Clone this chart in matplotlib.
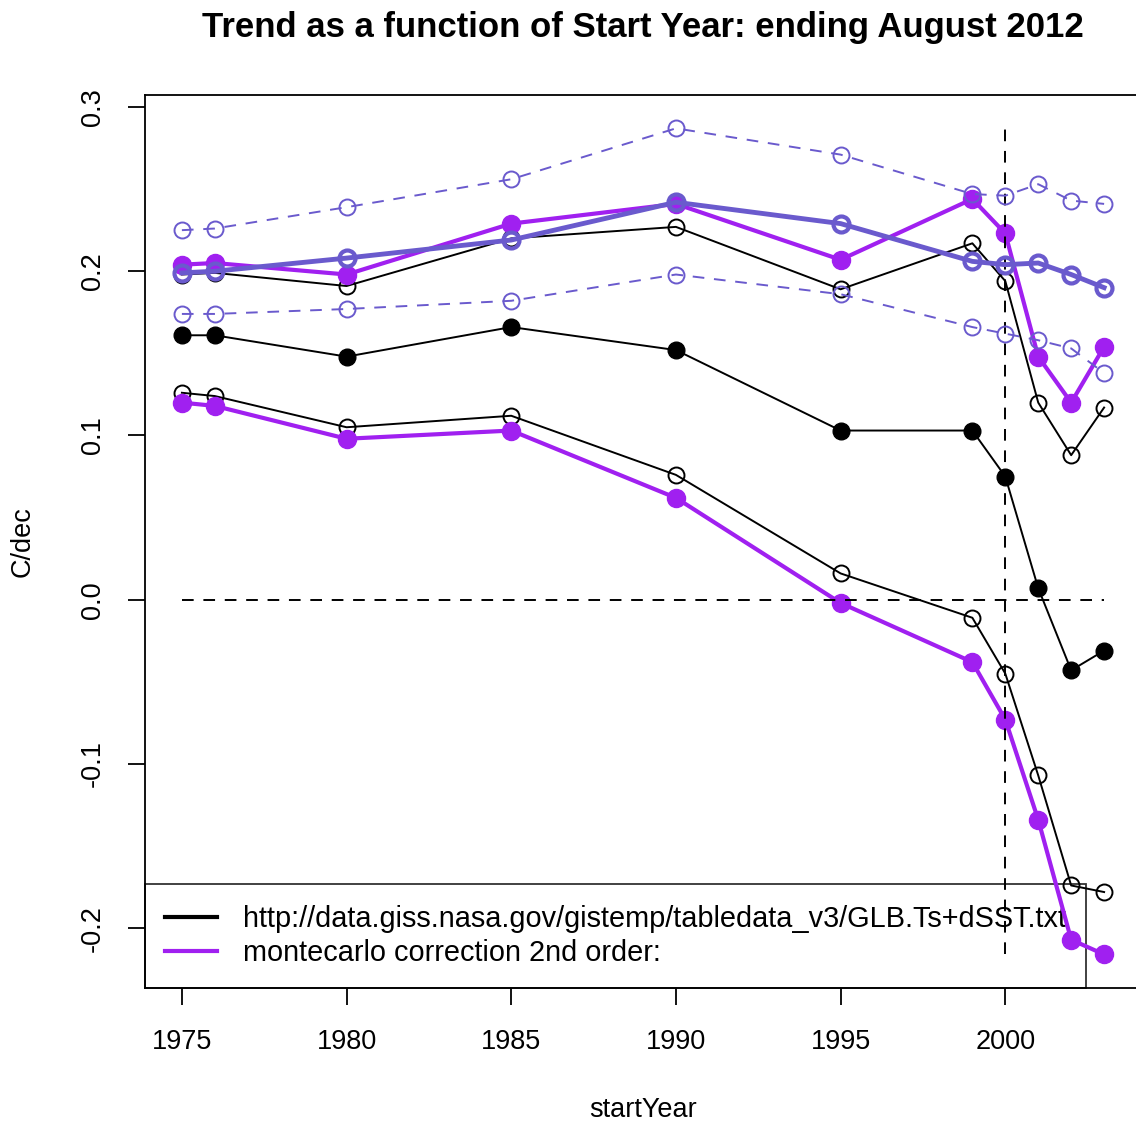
import matplotlib
matplotlib.use("Agg")
import matplotlib.pyplot as plt
from matplotlib.lines import Line2D

plt.rcParams['font.family'] = ['Liberation Sans', 'DejaVu Sans']

# Trend start years and trend estimates (C/decade)
years = [1975, 1976, 1980, 1985, 1990, 1995, 1999, 2000, 2001, 2002, 2003]

giss_trend = [0.161, 0.161, 0.148, 0.166, 0.152, 0.103, 0.103, 0.075, 0.007, -0.043, -0.031]
giss_upper = [0.198, 0.199, 0.191, 0.220, 0.227, 0.189, 0.217, 0.194, 0.120, 0.088, 0.117]
giss_lower = [0.126, 0.124, 0.105, 0.112, 0.076, 0.016, -0.011, -0.045, -0.107, -0.174, -0.178]

mc_upper = [0.204, 0.205, 0.198, 0.229, 0.241, 0.207, 0.244, 0.223, 0.148, 0.120, 0.154]
mc_lower = [0.120, 0.118, 0.098, 0.103, 0.062, -0.002, -0.038, -0.073, -0.134, -0.207, -0.216]

ar_trend = [0.199, 0.200, 0.208, 0.219, 0.242, 0.229, 0.206, 0.204, 0.205, 0.198, 0.190]
ar_upper = [0.225, 0.226, 0.239, 0.256, 0.287, 0.271, 0.247, 0.246, 0.253, 0.243, 0.241]
ar_lower = [0.174, 0.174, 0.177, 0.182, 0.198, 0.186, 0.166, 0.162, 0.158, 0.153, 0.138]

x_ticks = [1975, 1980, 1985, 1990, 1995, 2000]
y_ticks = [-0.2, -0.1, 0.0, 0.1, 0.2, 0.3]
y_ticklabels = ["-0.2", "-0.1", "0.0", "0.1", "0.2", "0.3"]

legend_labels = ["http://data.giss.nasa.gov/gistemp/tabledata_v3/GLB.Ts+dSST.txt",
                 "montecarlo correction 2nd order:"]

title = "Trend as a function of Start Year: ending August 2012"

PURPLE = "#A020F0"
SLATE = "#6A5ACD"

W, H = 1136, 1122
fig = plt.figure(figsize=(W / 100, H / 100), dpi=100)
ax = fig.add_axes([145 / W, (H - 987.5) / H, (1141 - 145) / W, (987.5 - 95.3) / H])

all_vals = giss_trend + giss_upper + giss_lower + mc_upper + mc_lower + ar_trend + ar_upper + ar_lower
ymin, ymax = min(all_vals), max(all_vals)
xmin, xmax = min(years), max(years)
xpad = 0.04 * (xmax - xmin)
ypad = 0.04 * (ymax - ymin)
ax.set_xlim(xmin - xpad, xmax + xpad)
ax.set_ylim(ymin - ypad, ymax + ypad)

open_kw = dict(marker='o', markersize=11.5, markerfacecolor='none')
dash = (0, (6, 5))

# GISS series
ax.plot(years, giss_upper, color='black', lw=1.4, markeredgewidth=1.4, zorder=6, **open_kw)
ax.plot(years, giss_lower, color='black', lw=1.4, markeredgewidth=1.4, zorder=6, **open_kw)
ax.plot(years, giss_trend, color='black', lw=1.4, marker='o', markersize=12, zorder=6)

# Monte-Carlo corrected bounds
ax.plot(years, mc_upper, color=PURPLE, lw=3, marker='o', markersize=13, zorder=6)
ax.plot(years, mc_lower, color=PURPLE, lw=3, marker='o', markersize=13, zorder=6)

# Reference lines
ax.plot([xmin, xmax], [0, 0], color='black', lw=1.4, linestyle=dash, zorder=6)
ax.plot([2000, 2000], [ymin, ymax], color='black', lw=1.4, linestyle=dash, zorder=6)

# Slate series
ax.plot(years, ar_upper, color=SLATE, lw=1.4, linestyle=dash, markeredgewidth=1.4, zorder=6, **open_kw)
ax.plot(years, ar_lower, color=SLATE, lw=1.4, linestyle=dash, markeredgewidth=1.4, zorder=6, **open_kw)
ax.plot(years, ar_trend, color=SLATE, lw=3.5, markeredgewidth=3, zorder=6, **open_kw)

ax.set_xticks(x_ticks)
ax.set_xticklabels([str(t) for t in x_ticks])
ax.set_yticks(y_ticks)
ax.set_yticklabels(y_ticklabels, rotation=90, va='center')
ax.tick_params(axis='both', direction='out', length=12, width=1.3, labelsize=19.5, colors='black')
ax.tick_params(axis='x', pad=18)
ax.tick_params(axis='y', pad=16)
for s in ax.spines.values():
    s.set_linewidth(1.3)
    s.set_color('black')

ax.set_xlabel("startYear", fontsize=19.5)
ax.set_ylabel("C/dec", fontsize=19.5)
ax.xaxis.set_label_coords(0.5, (987.5 - 1110) / (987.5 - 95.3))
ax.xaxis.label.set_va('center')
ax.yaxis.set_label_coords((23 - 145) / (1141 - 145), 0.5)
ax.yaxis.label.set_va('center')

ax.text(0.5, (987.5 - 27) / (987.5 - 95.3), title, transform=ax.transAxes,
        ha='center', va='center', fontsize=25, fontweight='bold')

handles = [Line2D([], [], color='black', lw=3),
           Line2D([], [], color=PURPLE, lw=3)]
leg = ax.legend(handles, legend_labels, loc='lower left', bbox_to_anchor=(0, 0),
                borderaxespad=0, fontsize=20.8, frameon=True, fancybox=False,
                handlelength=1.8, handletextpad=0.9, borderpad=0.7, labelspacing=0.23)
leg.set_zorder(3)
leg.get_frame().set_edgecolor('black')
leg.get_frame().set_facecolor('none')
leg.get_frame().set_linewidth(1.3)

fig.savefig("out.png", dpi=100)
